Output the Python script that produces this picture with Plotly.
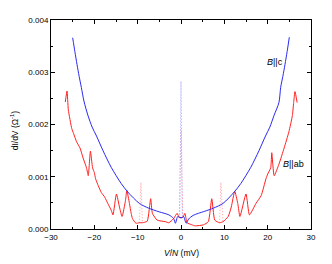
import plotly.graph_objects as go

# B||c (blue) curve
v_c = [-25, -24.5, -24, -23.5, -23, -22.4, -21.5, -20.5, -19.5, -18, -16.1, -13.8, -12.3,
       -9.6, -7.5, -5.1, -2.8, -1.7, -1.3, -0.75, -0.3,
       0.3, 0.6, 1.2, 1.75, 2.8, 4.0, 5.5, 7.5, 9.7, 12.3, 13.8, 16.1, 18, 19.5, 20.5,
       21.5, 22.6, 23, 23.5, 24, 24.5, 25]
g_c = [0.00366, 0.00340, 0.00315, 0.00292, 0.00271, 0.00245, 0.00218, 0.00195, 0.00178,
       0.00150, 0.00118, 0.00087, 0.00071, 0.00049, 0.00040, 0.00033, 0.00027, 0.00020,
       0.00011, 0.00024, 0.00022,
       0.00022, 0.00024, 0.00011, 0.00019, 0.00026, 0.00030, 0.00034, 0.00040, 0.00049,
       0.00071, 0.00087, 0.00118, 0.00150, 0.00178, 0.00195, 0.00218, 0.00242, 0.00271,
       0.00292, 0.00315, 0.00340, 0.00367]

# B||ab (red) curve
v_ab = [-26.7, -26.3, -26.0, -25.2, -24.8, -24.1, -23.3, -22.6, -21.8, -21.4, -20.9, -20.4,
        -20.0, -19.7, -19.1, -18.4, -17.6, -16.9, -16.1, -15.7, -14.9, -14.2, -13.6, -12.8,
        -12.5, -11.9, -11.5, -11.2, -10.4, -9.6, -8.9, -7.8, -7.0, -6.6, -5.5, -3.6, -2.8,
        -1.7, -0.9, -0.4,
        0.4, 0.9, 1.4, 2.5, 3.3, 5.2, 6.3, 7.1, 7.8, 8.9, 9.7, 10.9, 11.6, 12.4, 13.1, 13.6,
        15.0, 15.8, 17.3, 18.5, 19.6, 20.0, 20.7, 20.95, 21.5, 22.6, 23.8, 24.9, 25.7, 26.0,
        26.3, 26.8]
g_ab = [0.00243, 0.00264, 0.00228, 0.00192, 0.00183, 0.00167, 0.00155, 0.00136, 0.00117,
        0.00102, 0.00149, 0.00117, 0.00108, 0.00096, 0.00083, 0.00070, 0.00061, 0.00049,
        0.00036, 0.00027, 0.00067, 0.00042, 0.00024, 0.00055, 0.00074, 0.00049, 0.00030,
        0.00020, 0.00011, 0.00012, 0.00012, 0.00015, 0.00058, 0.00030, 0.00017, 0.00014,
        0.00012, 0.00020, 0.00030, 0.00022,
        0.00022, 0.00030, 0.00012, 0.00008, 0.00006, 0.00008, 0.00014, 0.00058, 0.00017,
        0.00012, 0.00014, 0.00024, 0.00042, 0.00072, 0.00049, 0.00024, 0.00067, 0.00027,
        0.00049, 0.00064, 0.00096, 0.00105, 0.00117, 0.00146, 0.00102, 0.00124, 0.00155,
        0.00186, 0.00217, 0.00242, 0.00263, 0.00242]

# narrow spikes (drawn dotted)
spike_c_v = [-0.3, 0.0, 0.3]
spike_c_g = [0.00022, 0.00283, 0.00022]
spike_ab_v = [[-9.6, -9.25, -8.9], [-0.4, 0.0, 0.4], [8.9, 9.2, 9.7]]
spike_ab_g = [[0.00012, 0.00089, 0.00012], [0.00022, 0.00190, 0.00022], [0.00012, 0.00089, 0.00014]]

RED = "#ff2020"
BLUE = "#2a2af0"
FONT = "Liberation Sans"

fig = go.Figure()
for sv, sg in zip(spike_ab_v, spike_ab_g):
    fig.add_trace(go.Scatter(x=sv, y=sg, mode="lines",
                             line=dict(color="#ff9a9a", width=1, dash="1px,2px"), showlegend=False))
fig.add_trace(go.Scatter(x=spike_c_v, y=spike_c_g, mode="lines",
                         line=dict(color="#9a9aff", width=1, dash="1px,2px"), showlegend=False))
fig.add_trace(go.Scatter(x=v_ab, y=g_ab, mode="lines",
                         line=dict(color=RED, width=1, shape="spline", smoothing=0.5),
                         showlegend=False))
fig.add_trace(go.Scatter(x=v_c, y=g_c, mode="lines",
                         line=dict(color=BLUE, width=1, shape="spline", smoothing=0.8),
                         showlegend=False))

axis_common = dict(showline=True, linecolor="black", linewidth=1, mirror="ticks",
                   ticks="inside", ticklen=4, tickcolor="black", showgrid=False,
                   zeroline=False, tickfont=dict(family=FONT, size=8, color="black"))

fig.update_xaxes(range=[-30, 30], dtick=10, tick0=-30,
                 minor=dict(dtick=5, ticks="inside", ticklen=2, tickcolor="black"),
                 **axis_common)
fig.update_yaxes(range=[0, 0.004], dtick=0.001, tickformat=".3f",
                 minor=dict(dtick=0.0005, ticks="inside", ticklen=2, tickcolor="black"),
                 **axis_common)

fig.add_annotation(x=-0.137, y=0.474, xref="paper", yref="paper", textangle=-90,
                   xanchor="center", yanchor="middle",
                   text="dI/dV (Ω<sup>-1</sup>)", showarrow=False,
                   font=dict(family=FONT, size=8.5, color="black"))
fig.add_annotation(x=0.5, y=-0.114, xref="paper", yref="paper",
                   xanchor="center", yanchor="middle",
                   text="<i>V</i>/<i>N</i> (mV)", showarrow=False,
                   font=dict(family=FONT, size=8.5, color="black"))
fig.add_annotation(x=21.6, y=0.00319, text="<i>B</i>||c", showarrow=False,
                   xanchor="center", yanchor="middle",
                   font=dict(family=FONT, size=9, color="black"))
fig.add_annotation(x=26.0, y=0.00125, text="<i>B</i>||ab", showarrow=False,
                   xanchor="center", yanchor="middle",
                   font=dict(family=FONT, size=9, color="black"))

# page body adds an 8px offset, so the figure is sized to fit the window
fig.update_layout(width=316, height=256, margin=dict(l=43, r=10, t=8, b=35),
                  plot_bgcolor="white", paper_bgcolor="white",
                  font=dict(family=FONT, size=8, color="black"))

fig.write_html("out.html")
